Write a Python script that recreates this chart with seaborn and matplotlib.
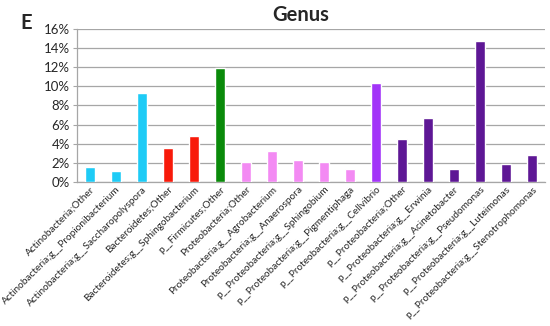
import matplotlib
matplotlib.use("Agg")
import matplotlib.pyplot as plt
import seaborn as sns
from matplotlib.ticker import PercentFormatter

# genus labels and relative abundance (%)
genera = [
    "Actinobacteria;Other",
    "Actinobacteria;g__Propionibacterium",
    "Actinobacteria;g__Saccharopolyspora",
    "Bacteroidetes;Other",
    "Bacteroidetes;g__Sphingobacterium",
    "p__Firmicutes;Other",
    "Proteobacteria;Other",
    "Proteobacteria;g__Agrobacterium",
    "Proteobacteria;g__Anaerospora",
    "p__Proteobacteria;g__Sphingobium",
    "p__Proteobacteria;g__Pigmentiphaga",
    "p__Proteobacteria;g__Cellvibrio",
    "p__Proteobacteria;Other",
    "p__Proteobacteria;g__Erwinia",
    "p__Proteobacteria;g__Acinetobacter",
    "p__Proteobacteria;g__Pseudomonas",
    "p__Proteobacteria;g__Luteimonas",
    "p__Proteobacteria;g__Stenotrophomonas",
]
abundance = [1.6, 1.1, 9.35, 3.6, 4.8, 11.9, 2.1, 3.2, 2.3, 2.05, 1.4,
             10.3, 4.5, 6.7, 1.35, 14.7, 1.9, 2.8]
colors = (["#1ECBF6"] * 3 + ["#F81A0A"] * 2 + ["#0A8A0A"]
          + ["#F38AF3"] * 5 + ["#A234F8"] + ["#5E1795"] * 6)

sns.set_style("white")
plt.rcParams['font.family'] = ['Lato', 'DejaVu Sans']

fig = plt.figure(figsize=(5.5, 3.26), dpi=100)
ax = fig.add_axes([0.14, 0.442, 0.851, 0.469])

sns.barplot(x=genera, y=abundance, hue=genera, palette=colors, legend=False,
            width=0.4, saturation=1, ax=ax, zorder=3)

ax.set_ylim(0, 16)
ax.set_xlim(-0.5, len(genera) - 0.5)
ax.set_yticks(range(0, 17, 2))
ax.yaxis.set_major_formatter(PercentFormatter(decimals=0))
ax.grid(axis="y", color="#a6a6a6", linewidth=0.9, zorder=0)
ax.tick_params(axis="y", labelsize=9.5, length=3, color="#a6a6a6", pad=2,
               left=True)
ax.tick_params(axis="x", labelsize=7.2, length=0, pad=2)
plt.setp(ax.get_xticklabels(), rotation=45, ha="right", rotation_mode="anchor")

for s in ["top", "right"]:
    ax.spines[s].set_visible(False)
for s in ["left", "bottom"]:
    ax.spines[s].set_color("#a6a6a6")
    ax.spines[s].set_linewidth(0.9)

fig.text(0.547, 0.955, "Genus", ha="center", va="center",
         fontsize=14.5, fontweight="bold")
fig.text(0.047, 0.928, "E", ha="center", va="center",
         fontsize=14.5, fontweight="bold")

fig.savefig("out.png", dpi=100)
